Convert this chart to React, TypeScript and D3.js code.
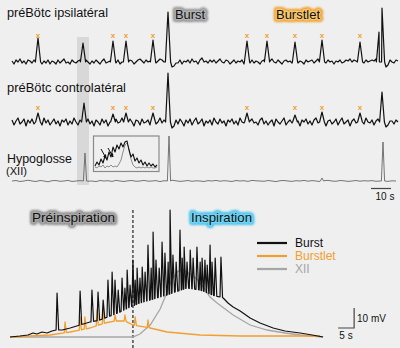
import React from 'react';
import * as d3 from 'd3';

// ---------- Top panel data (time in s, amplitude in arbitrary units) ----------
const ipsiNoise = [
  1, -2, 2, 0, 3, -1, 1, -2, 2, 1,
  -1, 2, 0, 1, 0, -2, 1, -1, 2, -2,
  1, 0, -2, 2, -1, 1, 3, -1, 0, -2,
  2, 0, -1, 1, 2, 3, 4, 2, 0, -2,
  1, -1, 2, 0, -2, 1, 3, -1, 0, 1,
  2, 0, -1, 2, -2, 0, 1, 0, -1, 2,
  1, -2, 0, 2, 3, 1, -1, 2, 0, 1,
  2, 0, -1, 1, 3, 2, 0, 1, 0, -2,
  -5, -4, -1, -1, 2, -2, 1, 0, 2, -1,
  3, 0, 1, -2, 2, 4, 0, 1, -1, 2,
  0, 2, -1, 1, 3, 0, -1, 2, 1, -2,
  0, 2, -1, 1, 0, 2, -2, 1, 0, -1,
  2, -1, 1, 0, -2, 1, 2, 0, -1, 1,
  3, 0, -1, 2, 0, -2, 1, 2, 0, 1,
  -1, 0, 2, -1, 1, 0, -2, 2, 0, 1,
  2, -1, 1, 3, 0, 1, 0, -1, 2, 0,
  1, -2, 1, 0, 2, -1, 0, 2, 1, 3,
  0, 2, 1, 3, 1, 0, -1, 2, 0, 1,
  2, 1, 3, 0, 2, 0, 0, -5, -3, 2,
  0, -1, 2, 1,
];
const ipsiPeakT = [13, 35.5, 50.5, 57, 70.5, 78, 117.5, 127.5, 141.5, 155, 174, 183.5, 185];
const ipsiPeakH = [24, 19, 21, 21, 22, 50, 21, 21, 20, 22, 20, 30, 54];
const ipsiMarkT = [13, 50.5, 57, 70.5, 117.5, 127.5, 141.5, 155, 174];

const contraNoise = [
  2, -3, 1, 4, -2, 0, 3, -4, 2, -1,
  3, -2, 1, 0, 2, -3, 4, -1, 2, -3,
  0, 3, -2, 1, -4, 2, 0, 3, -3, 1,
  -2, 4, 0, -3, 2, -1, 1, 0, 3, -2,
  1, -4, 2, 0, -3, 3, -1, 2, -4, 0,
  2, -2, 3, -1, 0, 4, -3, 1, -2, 3,
  0, -4, 2, 1, -3, 3, -1, 0, 2, -3,
  1, 3, -2, 0, 4, -1, 2, -3, 0, 0,
  -6, -4, 2, -2, 3, 0, -4, 2, -1, 3,
  -3, 1, 4, -2, 0, 3, -4, 1, -1, 2,
  -3, 4, 0, -2, 3, -1, 1, -4, 2, 0,
  3, -2, 1, -3, 4, 0, -1, 2, -4, 1,
  3, -1, 0, -3, 2, 4, -2, 1, -3, 0,
  2, -4, 3, 0, -2, 1, 4, -3, 0, 2,
  -1, 3, -2, 1, -4, 2, 0, 3, -2, 1,
  -3, 2, 4, -1, 0, -2, 3, -4, 1, 2,
  -2, 0, 3, -3, 1, 4, -2, 0, 2, -4,
  1, 3, -1, 0, -3, 2, -2, 4, 0, -1,
  2, -3, 1, 3, -2, 0, 0, -5, -3, 1,
  1, -2, 2, 0,
];
const contraPeakT = [13, 36, 50.5, 57, 70.5, 78, 117.5, 141.5, 155, 174, 185];
const contraPeakH = [9, 19, 8, 9, 9, 49, 9, 7, 10, 9, 30];
const contraMarkT = [13, 50.5, 57, 70.5, 117.5, 141.5, 155, 174];

const xiiNoise = [
  0, 0.5, -0.5, 0, 0.8, 0, -0.5, 0.5, 0, -0.8,
  0.3, 0.5, -0.3, 0, 0.6, -0.5, 0, 0.4, 0.8, -0.2,
  0, -0.6, 0.5, 0, 0.3, -0.4, 0.6, 0, -0.5, 0.2,
  0.5, -0.3, 0, 0.6, -0.2, 0, 0.4, -0.6, 0.3, 0,
  0.8, 0.2, -0.4, 0, 0.5, -0.3, 0.2, 0, -0.5, 0.4,
  0, 0.6, -0.2, 0.3, 0, -0.5, 0.5, 0, 0.3, -0.4,
  0.6, 0.2, 0, -0.3, 0.5, 0, -0.6, 0.3, 0.5, 0,
  -0.4, 0.3, 0, 0.6, -0.2, 0.4, 0, -0.5, 0.3, 0.6,
  0, -0.3, 0.5, 0.2, -0.4, 0, 0.5, -0.2, 0.3, 0,
  0.4, -0.3, 0, 0.5, -0.4, 0.2, 0,
];
const xiiPeakT = [36.5, 78.5, 155, 185.5];
const xiiPeakH = [28, 45, 3, 39];

// inset (zoom on the gray-shaded event)
const insetBurst = [3, 7, 4, 10, 6, 13, 9, 17, 12, 22, 17, 24, 20, 26, 22, 27, 28, 19, 12, 15, 8, 11, 6, 9, 4, 7, 3, 6, 3, 5, 2, 4];
const insetXII = [2, 1, 3, 2, 4, 1, 3, 2, 4, 2, 3, 2, 5, 9, 17, 24, 26, 20, 10, 4, 2, 1, 2, 1, 2, 1, 2, 1, 2, 1, 1, 2];

// ---------- Bottom panel data (time in s, membrane potential in mV) ----------
const burstEnvT = [0, 3.1, 5.6, 7.2, 8.4, 10, 11.6, 13.1, 14.4, 16.3, 18.8, 21.9, 25, 28.1, 31.3, 34.4, 37.5, 40.6, 43.8, 46.9, 49.1, 51.6, 55.3, 59.4, 62.5, 64.1, 65.6, 66.6, 68.1, 69.7, 71.9, 75, 78.1, 82.2, 85.9, 90.6, 94.4, 97.8];
const burstEnvV = [0, 0.5, 1, 2, 1.5, 2.5, 2, 3, 3.5, 3.5, 4.5, 6, 7.5, 8.5, 10.5, 12.5, 15, 17, 18.5, 20, 21, 22.5, 24.5, 23.5, 21.5, 20.5, 20, 19.5, 17, 15, 13, 9.5, 7, 4.5, 3, 2, 1, 0];
const burstSpikeT = [14.7, 21.9, 25.6, 27.5, 29.1, 30.6, 31.9, 32.8, 33.8, 35, 35.9, 36.6, 37.5, 38.4, 39.1, 39.7, 40.6, 41.3, 42.2, 43.1, 44.1, 44.7, 45.6, 46.6, 47.5, 48.4, 49.4, 50, 50.9, 51.9, 53.1, 53.8, 54.4, 55.3, 56.3, 57.2, 58.4, 59.4, 60, 60.9, 61.6, 62.5, 63.1, 64.1, 65.9];
const burstSpikeV = [22, 23, 23.5, 22.5, 18.5, 28.5, 32.5, 28.5, 23.5, 29.5, 24.5, 33.5, 26, 38.5, 28.5, 34.5, 29.5, 35, 32.5, 46, 34.5, 52.5, 38.5, 34.5, 47.5, 42, 37.5, 63.5, 41, 37.5, 53.5, 39.5, 45, 37.5, 43.5, 39.5, 45, 37.5, 39.5, 38.5, 36, 46, 37.5, 39.5, 40];

const burstletEnvT = [0, 6.3, 12.5, 18.8, 25, 29.7, 32.8, 35.9, 38.4, 43.8, 49.1, 59.4, 71.9, 96.9];
const burstletEnvV = [0, 0.5, 1, 2.5, 4.5, 7, 8, 8, 6, 4.5, 2.5, 1, 0.5, 0.5];
const burstletSpikeT = [17.2, 21.9, 23.4, 27.2, 29.1, 32.8, 35.9, 39.1, 43.1];
const burstletSpikeV = [7.5, 10, 10, 13.5, 14.5, 11, 11, 10, 8.5];

const xiiEnvT = [0, 38.4, 40.6, 43.8, 46.9, 49.1, 50.6, 52.5, 54.1, 56.3, 58.4, 60.3, 62.5, 64.7, 67.2, 69.7, 75, 80.3, 85.9, 90.6, 97.8];
const xiiEnvV = [0, 0, 1.5, 6, 14, 22.5, 29, 33, 33.5, 31.5, 29, 25, 20, 17, 14, 11, 6, 3.5, 2, 1, 0];

const legendLabels = ['Burst', 'Burstlet', 'XII'];
const traceLabels = ['préBötc ipsilatéral', 'préBötc controlatéral', 'Hypoglosse', '(XII)'];
const phaseLabels = ['Préinspiration', 'Inspiration'];

// ---------- helpers ----------
type P = [number, number];
function traceWithPeaks(noise: number[], step: number, peakT: number[], peakH: number[], w: number): P[] {
  const pts: P[] = [];
  noise.forEach((n, i) => {
    const t = i * step;
    if (!peakT.some((p) => Math.abs(t - p) < w)) pts.push([t, n]);
  });
  peakT.forEach((p, i) => {
    pts.push([p - w, 0], [p, peakH[i]], [p + w, 0]);
  });
  pts.sort((a, b) => a[0] - b[0]);
  return pts;
}
function envWithSpikes(envT: number[], envV: number[], spT: number[], spV: number[], pre: number, post: number): P[] {
  const env = d3.scaleLinear().domain(envT).range(envV).clamp(true);
  const pts: P[] = envT.map((t, i) => [t, envV[i]] as P).filter(([t]) => !spT.some((s) => t > s - pre && t < s + post));
  spT.forEach((s, i) => {
    pts.push([s - pre, env(s - pre)], [s, spV[i]], [s + post, env(s + post)]);
  });
  pts.sort((a, b) => a[0] - b[0]);
  return pts;
}

const FONT = "'Liberation Sans', Arial, Helvetica, sans-serif";
const ORANGE = '#f0a030';

function GlowText(props: { x: number; y: number; text: string; size: number; len: number; outer: string; inner: string }) {
  const { x, y, text, size, len, outer, inner } = props;
  const common = { x, y, fontSize: size, fontFamily: FONT, textLength: len, lengthAdjust: 'spacingAndGlyphs' as const };
  return (
    <g>
      <text {...common} fill={outer} stroke={outer} strokeWidth={6} strokeLinejoin="round" filter="url(#blur2)">{text}</text>
      <text {...common} fill={inner} stroke={inner} strokeWidth={3} strokeLinejoin="round" filter="url(#blur1)">{text}</text>
      <text {...common} fill="#111">{text}</text>
    </g>
  );
}

export default function App() {
  const xTop = d3.scaleLinear().domain([0, 193]).range([12, 398]);
  const yIpsi = d3.scaleLinear().domain([0, 60]).range([62, 2]);
  const yContra = d3.scaleLinear().domain([0, 60]).range([122, 62]);
  const yXii = d3.scaleLinear().domain([0, 60]).range([181, 121]);

  const lineTop = (ys: d3.ScaleLinear<number, number>) =>
    d3.line<P>().x((d) => xTop(d[0])).y((d) => ys(d[1]));

  const ipsi = traceWithPeaks(ipsiNoise, 1, ipsiPeakT, ipsiPeakH, 1.3);
  const contra = traceWithPeaks(contraNoise, 1, contraPeakT, contraPeakH, 1.2);
  const xii = traceWithPeaks(xiiNoise, 2, xiiPeakT, xiiPeakH, 0.8);

  const xIn = d3.scaleLinear().domain([0, 31]).range([95, 157]);
  const yIn = d3.scaleLinear().domain([0, 35]).range([169, 134]);
  const lineIn = d3.line<number>().x((_, i) => xIn(i)).y((d) => yIn(d));

  const xBot = d3.scaleLinear().domain([0, 98.4]).range([10, 325]);
  const yBot = d3.scaleLinear().domain([0, 60]).range([337, 217]);
  const lineBot = d3.line<P>().x((d) => xBot(d[0])).y((d) => yBot(d[1]));

  const burst = envWithSpikes(burstEnvT, burstEnvV, burstSpikeT, burstSpikeV, 0.3, 0.5);
  const burstlet = envWithSpikes(burstletEnvT, burstletEnvV, burstletSpikeT, burstletSpikeV, 0.25, 0.4);
  const xiiBot: P[] = xiiEnvT.map((t, i) => [t, xiiEnvV[i]]);

  const legendColors = ['#111', ORANGE, '#a6a6a6'];

  return (
    <svg width={400} height={348} style={{ position: 'fixed', left: 0, top: 0 }} fontFamily={FONT}>
      <defs>
        <filter id="blur1" x="-20%" y="-60%" width="140%" height="220%">
          <feGaussianBlur stdDeviation={0.7} />
        </filter>
        <filter id="blur2" x="-20%" y="-60%" width="140%" height="220%">
          <feGaussianBlur stdDeviation={1.1} />
        </filter>
        <marker id="arr" viewBox="0 0 6 6" refX={5} refY={3} markerWidth={4} markerHeight={4} orient="auto">
          <path d="M0,0 L6,3 L0,6 z" fill="#111" />
        </marker>
      </defs>
      <rect x={0} y={0} width={400} height={348} fill="#efefef" />

      {/* gray shaded band */}
      <rect x={xTop(32.5)} y={37} width={xTop(38.5) - xTop(32.5)} height={148} fill="#d8d8d8" />

      {/* labels */}
      <text x={7} y={17} fontSize={12} fill="#111" textLength={101} lengthAdjust="spacingAndGlyphs">{traceLabels[0]}</text>
      <text x={7} y={92} fontSize={12} fill="#111" textLength={119} lengthAdjust="spacingAndGlyphs">{traceLabels[1]}</text>
      <text x={7} y={162.5} fontSize={12.5} fill="#111" textLength={65} lengthAdjust="spacingAndGlyphs">{traceLabels[2]}</text>
      <text x={6} y={175} fontSize={11.5} fill="#111" textLength={21} lengthAdjust="spacingAndGlyphs">{traceLabels[3]}</text>

      <GlowText x={175} y={19} text="Burst" size={12} len={30} outer="#8e8e8e" inner="#b2b2b2" />
      <GlowText x={276} y={19} text="Burstlet" size={12} len={44} outer="#f09a22" inner="#f7c670" />

      {/* traces */}
      <path d={lineTop(yIpsi)(ipsi) || ''} fill="none" stroke="#111" strokeWidth={1.2} strokeLinejoin="round" />
      <path d={lineTop(yContra)(contra) || ''} fill="none" stroke="#111" strokeWidth={1.2} strokeLinejoin="round" />
      <path d={lineTop(yXii)(xii) || ''} fill="none" stroke="#666" strokeWidth={0.9} strokeLinejoin="round" />

      {/* burstlet markers */}
      {ipsiMarkT.map((t, i) => (
        <text key={'a' + i} x={xTop(t)} y={yIpsi(27)} fontSize={8} fontWeight="bold" fill={ORANGE} textAnchor="middle" dominantBaseline="central">x</text>
      ))}
      {contraMarkT.map((t, i) => (
        <text key={'b' + i} x={xTop(t)} y={yContra(15)} fontSize={8} fontWeight="bold" fill={ORANGE} textAnchor="middle" dominantBaseline="central">x</text>
      ))}

      {/* inset */}
      <rect x={93.5} y={136} width={65.5} height={35.5} fill="#efefef" stroke="#8a8a8a" strokeWidth={1.2} />
      <path d={lineIn(insetXII) || ''} fill="none" stroke="#8c8c8c" strokeWidth={1} />
      <path d={lineIn(insetBurst) || ''} fill="none" stroke="#111" strokeWidth={1.1} strokeLinejoin="round" />
      <line x1={101} y1={149} x2={106} y2={158} stroke="#111" strokeWidth={1} markerEnd="url(#arr)" />
      <line x1={108} y1={148} x2={113} y2={157} stroke="#111" strokeWidth={1} markerEnd="url(#arr)" />

      {/* 10 s scale bar */}
      <line x1={xTop(179.5)} x2={xTop(189.5)} y1={188.5} y2={188.5} stroke="#444" strokeWidth={1.2} />
      <text x={385} y={199.5} fontSize={10} fill="#111" textAnchor="middle">10 s</text>

      {/* ---------- bottom panel ---------- */}
      <GlowText x={32} y={222} text={phaseLabels[0]} size={13} len={83} outer="#8a8a8a" inner="#a9a9a9" />
      <GlowText x={191} y={222} text={phaseLabels[1]} size={13} len={61} outer="#3fc0ec" inner="#72d3f2" />

      <line x1={xBot(38.4)} x2={xBot(38.4)} y1={210} y2={348} stroke="#333" strokeWidth={1.3} strokeDasharray="3,2" />

      <path d={lineBot(xiiBot) || ''} fill="none" stroke="#a6a6a6" strokeWidth={1.3} />
      <path d={lineBot(burstlet) || ''} fill="none" stroke={ORANGE} strokeWidth={1.3} strokeLinejoin="round" />
      <path d={lineBot(burst) || ''} fill="none" stroke="#111" strokeWidth={1.2} strokeLinejoin="round" />

      {/* legend */}
      {legendLabels.map((l, i) => (
        <g key={l}>
          <line x1={257} x2={287} y1={243 + i * 13} y2={243 + i * 13} stroke={legendColors[i]} strokeWidth={2.2} />
          <text x={295} y={247 + i * 13} fontSize={12} fill={i === 0 ? '#111' : legendColors[i]}>{l}</text>
        </g>
      ))}

      {/* mV / s scale bar */}
      <path d={`M${xBot(102.5)},${yBot(4.5)} H${xBot(107.5)} V${yBot(14.5)}`} fill="none" stroke="#444" strokeWidth={1.2} />
      <text x={357} y={322} fontSize={10} fill="#111">10 mV</text>
      <text x={346} y={338.5} fontSize={10} fill="#111" textAnchor="middle">5 s</text>
    </svg>
  );
}
